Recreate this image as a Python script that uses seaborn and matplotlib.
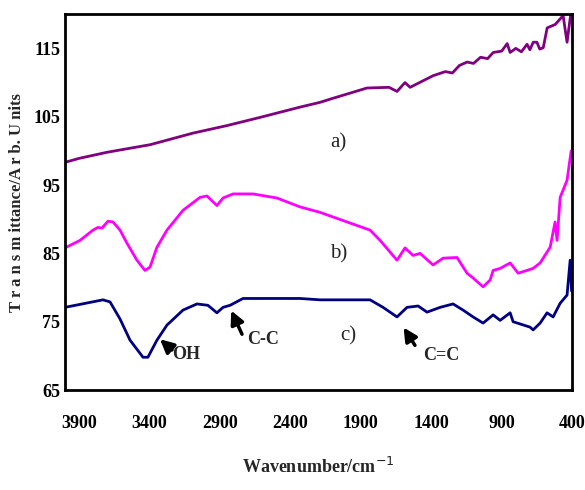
import matplotlib
matplotlib.use("Agg")
import matplotlib.pyplot as plt
import pandas as pd
import seaborn as sns

# wavenumber (cm-1) / transmittance
a_wn = [4000, 3986, 3900, 3700, 3396, 3091, 2850, 2615, 2332, 2190, 2097, 1856, 1700,
        1643, 1586, 1550, 1387, 1300, 1250, 1200, 1145, 1100, 1050, 1000, 960, 900,
        861, 840, 800, 760, 720, 700, 676, 650, 630, 605, 577, 520, 464, 436, 410, 400]
a_t = [98.6, 98.4, 98.9, 99.8, 100.9, 102.6, 103.7, 104.9, 106.4, 107.1, 107.7, 109.2, 109.3,
       108.7, 110.0, 109.3, 111.0, 111.6, 111.4, 112.5, 113.0, 112.8, 113.7, 113.5, 114.4, 114.6,
       115.7, 114.4, 115.0, 114.5, 115.6, 114.8, 115.9, 115.9, 114.9, 115.1, 118.0, 118.5, 119.8,
       115.9, 120.0, 119.8]

b_wn = [4000, 3893, 3801, 3766, 3737, 3695, 3659, 3609, 3560, 3489, 3432, 3396, 3347, 3276,
        3162, 3041, 2992, 2921, 2878, 2807, 2665, 2495, 2331, 2189, 1834, 1763, 1643, 1586,
        1529, 1479, 1387, 1316, 1217, 1146, 1103, 1032, 982, 961, 911, 840, 783, 677, 627,
        556, 521, 507, 485, 436, 407]
b_t = [85.8, 86.9, 88.4, 88.8, 88.7, 89.7, 89.6, 88.4, 86.5, 84.0, 82.5, 83.0, 85.9, 88.4,
       91.3, 93.2, 93.4, 92.0, 93.1, 93.7, 93.7, 93.1, 91.8, 91.0, 88.4, 86.9, 84.0, 85.8,
       84.7, 85.0, 83.3, 84.3, 84.4, 82.1, 81.4, 80.1, 81.1, 82.5, 82.8, 83.6, 82.1, 82.8, 83.6,
       85.9, 89.6, 86.9, 93.2, 95.7, 100.0]

c_wn = [4000, 3730, 3680, 3609, 3538, 3446, 3411, 3347, 3276, 3162, 3063, 2985, 2921, 2878,
        2828, 2736, 2331, 2189, 1834, 1742, 1643, 1572, 1493, 1430, 1337, 1245, 1174, 1103,
        1032, 961, 911, 840, 819, 698, 677, 627, 578, 535, 485, 436, 414, 404]
c_t = [77.1, 78.2, 77.9, 75.4, 72.3, 69.8, 69.8, 72.3, 74.5, 76.7, 77.6, 77.4, 76.3, 77.1,
       77.4, 78.4, 78.4, 78.2, 78.2, 77.1, 75.7, 77.1, 77.3, 76.4, 77.1, 77.6, 76.7, 75.7,
       74.8, 76.0, 75.2, 76.3, 75.0, 74.2, 73.8, 74.8, 76.3, 75.7, 77.7, 78.9, 84.0, 79.5]

x_ticks = [3900, 3400, 2900, 2400, 1900, 1400, 900, 400]
y_ticks = [65, 75, 85, 95, 105, 115]

sns.set_style("white")
plt.rcParams["font.family"] = ["Liberation Serif", "DejaVu Serif"]

fig = plt.figure(figsize=(5.85, 4.9), dpi=100)
ax = fig.add_axes([0.111, 0.204, 0.867, 0.767])

sns.lineplot(x=a_wn, y=a_t, color="#800080", lw=2, ax=ax)
sns.lineplot(x=b_wn, y=b_t, color="#FF00FF", lw=2, ax=ax)
sns.lineplot(x=c_wn, y=c_t, color="#000080", lw=2, ax=ax)

ax.set_xlim(4000, 400)
ax.set_ylim(65, 120)
ax.set_xticks(x_ticks)
ax.set_yticks(y_ticks)
ax.tick_params(direction="in", length=5, width=1, labelsize=13, colors="black")
ax.tick_params(axis="x", pad=18)
for lab in ax.get_xticklabels() + ax.get_yticklabels():
    lab.set_fontweight("bold")
for sp in ax.spines.values():
    sp.set_color("black")
    sp.set_linewidth(2)

ax.set_xlabel("Wavenumber/cm$^{-1}$", fontsize=13, fontweight="bold", labelpad=18)
ax.set_ylabel("T r a n s m ittance/A r b. U nits", fontsize=12, fontweight="bold", labelpad=6)

# curve labels
ax.text(2118, 101.1, "a)", fontsize=15, va="center")
ax.text(2118, 85.0, "b)", fontsize=15, va="center")
ax.text(2047, 73.0, "c)", fontsize=15, va="center")

arrow = dict(arrowstyle="-|>", color="black", lw=2.5, mutation_scale=20)
ax.annotate("", xy=(3340, 72.7), xytext=(3225, 70.6), arrowprops=arrow)
ax.text(3240, 70.2, "OH", fontsize=13, fontweight="bold", va="center")
ax.annotate("", xy=(2828, 77.0), xytext=(2735, 72.8), arrowprops=arrow)
ax.text(2708, 72.4, "C-C", fontsize=13, fontweight="bold", va="center")
ax.annotate("", xy=(1607, 74.5), xytext=(1505, 71.2), arrowprops=arrow)
ax.text(1458, 70.0, "C=C", fontsize=13, fontweight="bold", va="center")

fig.savefig("out.png", dpi=100)
